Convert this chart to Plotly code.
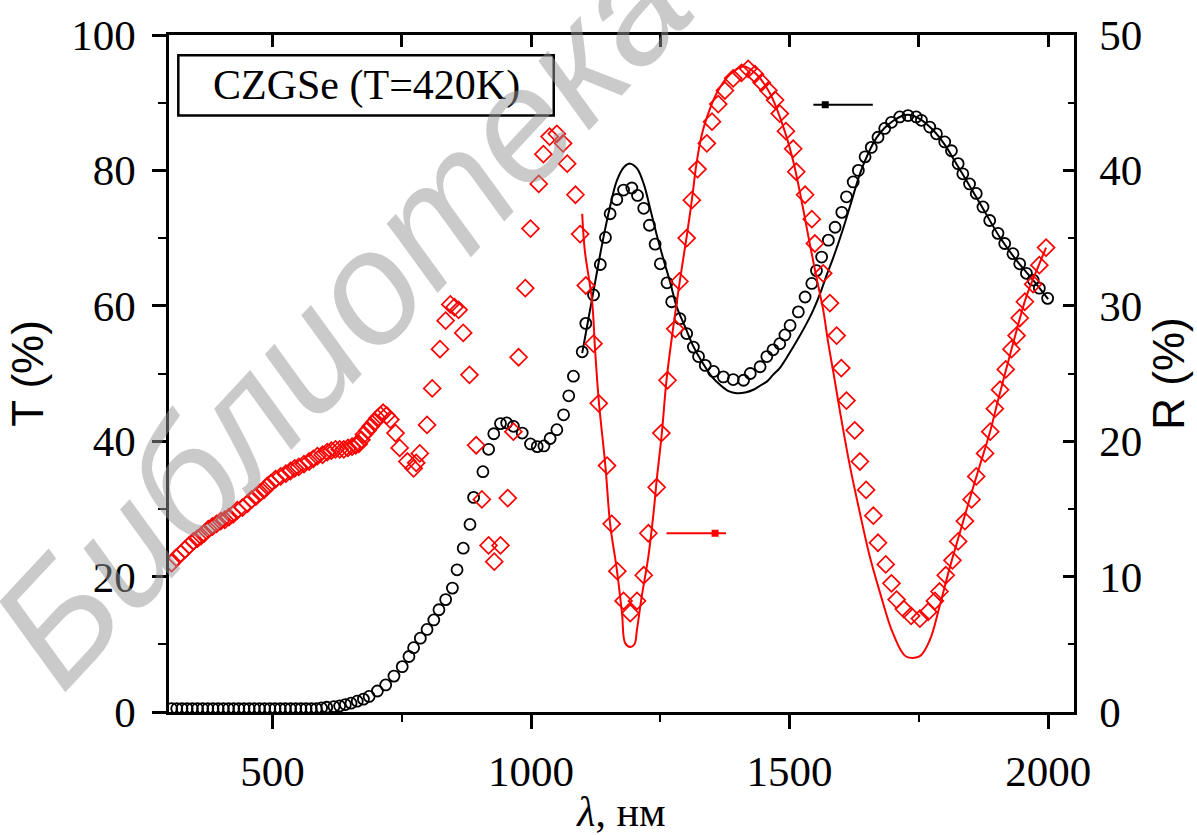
import plotly.graph_objects as go

# ---------------- data ----------------
# Transmission T (%) - measured (black open circles), left axis
T_x = [305, 315, 325, 335, 345, 355, 365, 375, 385, 395, 405, 415, 425, 435, 445,
       455, 465, 475, 485, 495, 505, 515, 525, 535, 545, 555, 565, 575, 585, 595, 605,
       619, 630, 641, 652, 664, 676, 687, 703, 719, 735, 751, 764, 773, 786, 799, 812,
       822, 835, 848, 857, 869, 882, 889, 907, 918, 928, 941, 953, 966, 983, 999, 1012,
       1025, 1037, 1050, 1063, 1073, 1082, 1099, 1106, 1121, 1134, 1144, 1153, 1166,
       1179, 1195, 1206, 1218, 1229, 1240, 1250, 1263, 1272, 1288, 1301, 1314, 1324,
       1337, 1353, 1372, 1391, 1411, 1424, 1443, 1456, 1468, 1481, 1491, 1501, 1517,
       1530, 1543, 1552, 1562, 1575, 1588, 1601, 1610, 1623, 1633, 1646, 1658, 1671,
       1684, 1697, 1713, 1729, 1745, 1755, 1771, 1784, 1800, 1813, 1826, 1835, 1848,
       1861, 1874, 1887, 1903, 1916, 1932, 1945, 1958, 1971, 1983, 1999]
T_y = [0.5, 0.5, 0.5, 0.5, 0.5, 0.5, 0.5, 0.5, 0.5, 0.5, 0.5, 0.5, 0.5, 0.5, 0.5,
       0.5, 0.5, 0.5, 0.5, 0.5, 0.5, 0.5, 0.5, 0.5, 0.5, 0.5, 0.5, 0.5, 0.5, 0.6, 0.7,
       0.8, 0.9, 1.1, 1.3, 1.6, 1.9, 2.3, 3.1, 4.0, 5.3, 6.7, 8.2, 9.5, 10.9, 12.2, 13.6,
       15.1, 16.6, 18.3, 21.0, 24.2, 27.7, 31.7, 35.5, 38.8, 41.1, 42.6, 42.7, 42.2, 41.2,
       39.6, 39.2, 39.3, 40.4, 41.7, 43.9, 46.7, 49.6, 53.2, 57.4, 61.6, 66.1, 70.1, 73.6,
       75.7, 77.1, 77.4, 76.3, 74.4, 71.9, 69.1, 66.2, 63.4, 60.6, 58.1, 55.9, 53.9, 52.5,
       51.2, 50.3, 49.5, 49.1, 49.0, 50.0, 51.0, 52.5, 53.5, 54.4, 55.7, 57.1, 59.1,
       61.3, 63.3, 65.2, 67.2, 69.7, 71.6, 73.8, 76.1, 78.3, 80.0, 82.0, 83.4, 84.9,
       86.2, 87.1, 87.9, 88.1, 87.9, 87.4, 86.4, 85.4, 84.2, 82.9, 81.0, 79.5, 78.0,
       76.6, 74.6, 72.6, 70.7, 69.2, 67.7, 66.2, 64.8, 63.8, 62.6, 61.1]

# Transmission T (%) - calculated (black line)
Tfit_x = [1099, 1112, 1125, 1138, 1153, 1166, 1180, 1192, 1205, 1218, 1230, 1243, 1256,
          1269, 1282, 1298, 1314, 1330, 1350, 1366, 1382, 1398, 1414, 1430, 1445, 1456,
          1468, 1481, 1494, 1507, 1520, 1533, 1546, 1559, 1572, 1584, 1604, 1620, 1636,
          1652, 1668, 1684, 1700, 1716, 1732, 1750, 1777, 1800, 1820, 1842, 1870, 1906,
          1940, 1971, 2000]
Tfit_y = [53.0, 58.5, 63.9, 69.3, 74.7, 78.5, 80.5, 81.0, 80.3, 78.0, 74.5, 70.5, 66.9,
          63.5, 59.8, 56.9, 54.0, 51.8, 49.5, 48.3, 47.4, 47.1, 47.2, 47.6, 48.3, 48.8,
          49.8, 50.8, 52.3, 53.9, 55.6, 57.4, 59.4, 61.8, 64.6, 67.0, 71.5, 75.5, 79.5,
          82.5, 84.8, 86.3, 87.3, 88.0, 88.2, 87.7, 86.0, 83.8, 81.3, 78.5, 74.9, 70.2,
          66.6, 63.8, 61.0]

# Reflection R (%) - measured (red open diamonds), right axis
R_x = [305, 314, 323, 331, 339, 347, 355, 362, 368, 376, 384, 392, 400, 408, 416, 424,
       432, 442, 452, 460, 468, 476, 484, 490, 497, 506, 516, 526, 535, 543, 551, 561,
       571, 579, 587, 597, 606, 614, 622, 630, 638, 646, 654, 661, 667, 672, 677, 684,
       690, 697, 703, 709, 714, 721, 728, 738, 746, 761, 773, 778, 785, 799, 809, 824,
       835, 844, 852, 860, 869, 881, 894, 905, 918, 929, 941, 955, 966, 976, 989, 999,
       1015, 1024, 1036, 1050, 1062, 1070, 1086, 1095, 1106, 1121, 1131, 1147, 1156,
       1167, 1179, 1192, 1205, 1218, 1227, 1243, 1252, 1264, 1279, 1287, 1301, 1311,
       1322, 1340, 1350, 1362, 1375, 1391, 1407, 1420, 1433, 1446, 1459, 1472, 1481,
       1493, 1507, 1513, 1530, 1543, 1549, 1565, 1578, 1591, 1600, 1610, 1626, 1636,
       1648, 1662, 1671, 1686, 1697, 1707, 1721, 1735, 1752, 1768, 1781, 1790, 1802,
       1815, 1826, 1839, 1852, 1861, 1878, 1888, 1897, 1907, 1918, 1929, 1939, 1945,
       1955, 1971, 1983, 1996]
R_y = [11.0, 11.4, 11.7, 12.0, 12.3, 12.6, 12.8, 13.0, 13.2, 13.5, 13.7, 13.9, 14.1,
       14.2, 14.4, 14.6, 14.9, 15.1, 15.4, 15.7, 15.9, 16.2, 16.4, 16.7, 16.9, 17.2,
       17.4, 17.6, 17.8, 18.0, 18.1, 18.3, 18.5, 18.7, 18.9, 19.0, 19.2, 19.3, 19.4,
       19.4, 19.4, 19.5, 19.6, 19.7, 19.8, 20.1, 20.5, 20.8, 21.1, 21.4, 21.7, 21.9,
       22.1, 21.9, 21.6, 20.6, 19.5, 18.5, 18.0, 18.4, 19.1, 21.2, 23.9, 26.8, 28.9,
       30.1, 29.9, 29.7, 28.0, 24.9, 19.7, 15.7, 12.3, 11.1, 12.3, 15.8, 20.7, 26.2,
       31.3, 35.7, 39.0, 41.2, 42.5, 42.7, 42.0, 40.5, 38.2, 35.3, 31.5, 27.2, 22.8,
       18.2, 13.9, 10.4, 8.2, 7.3, 8.2, 10.1, 13.2, 16.6, 20.6, 24.5, 28.3, 31.8, 35.0,
       37.8, 40.1, 42.0, 43.6, 44.9, 45.9, 46.8, 47.2, 47.5, 47.1, 46.5, 45.9, 45.2,
       44.2, 42.9, 41.6, 39.9, 38.2, 36.4, 34.6, 32.4, 30.2, 27.8, 25.4, 23.0, 20.8,
       18.5, 16.4, 14.5, 12.5, 10.9, 9.5, 8.3, 7.6, 7.1, 6.9, 7.4, 8.2, 8.9, 10.1,
       11.2, 12.6, 14.1, 15.7, 17.4, 19.1, 20.7, 22.4, 23.8, 25.3, 26.8, 27.8, 29.1,
       30.3, 31.6, 33.0, 34.3]

# Reflection R (%) - calculated (red line)
Rfit_x = [1099, 1104, 1118, 1124, 1131, 1144, 1153, 1166, 1176, 1182, 1192, 1200, 1205,
          1214, 1227, 1237, 1243, 1253, 1262, 1275, 1288, 1301, 1311, 1320, 1330, 1340,
          1359, 1385, 1411, 1436, 1462, 1488, 1507, 1523, 1539, 1552, 1565, 1575, 1586,
          1597, 1617, 1636, 1655, 1675, 1700, 1725, 1751, 1771, 1790, 1810, 1829, 1848,
          1867, 1887, 1903, 1932, 1958, 1983, 1996]
Rfit_y = [36.8, 34.1, 30.4, 26.7, 23.0, 18.1, 13.9, 10.5, 7.3, 5.1, 4.8, 5.0, 6.1,
          8.5, 11.5, 14.7, 17.1, 20.6, 24.5, 28.4, 31.9, 35.1, 37.8, 40.5, 42.6, 43.9,
          45.7, 47.1, 47.7, 47.1, 45.7, 43.2, 40.7, 37.8, 34.6, 32.1, 29.7, 27.2, 24.8,
          22.3, 18.1, 14.7, 11.5, 8.8, 5.8, 4.1, 4.1, 5.3, 7.8, 10.7, 13.2, 15.7,
          18.1, 20.6, 23.0, 27.2, 30.7, 33.1, 34.3]

# axis-pointer arrows (which curve belongs to which axis)
arrowT_x = [1546, 1661]
arrowT_y = [89.7, 89.7]
arrowT_sq_x = [1569]
arrowR_x = [1262, 1377]
arrowR_y = [13.2, 13.2]
arrowR_sq_x = [1356]

x_ticks = [500, 1000, 1500, 2000]
x_minor = [750, 1250, 1750]
top_ticks = [500, 750, 1000, 1250, 1500, 1750, 2000]

legend_text = "CZGSe (T=420K)"
watermark = "Библиотека"

SERIF = "Liberation Serif"
SANS = "Liberation Sans"

fig = go.Figure()

fig.add_trace(go.Scatter(x=T_x, y=T_y, mode="markers", xaxis="x", yaxis="y",
                         marker=dict(symbol="circle-open", size=11, color="black",
                                     line=dict(width=1.8, color="black"))))
fig.add_trace(go.Scatter(x=Tfit_x, y=Tfit_y, mode="lines", xaxis="x", yaxis="y",
                         line=dict(color="black", width=2, shape="spline")))
fig.add_trace(go.Scatter(x=R_x, y=R_y, mode="markers", xaxis="x", yaxis="y2",
                         marker=dict(symbol="diamond-open", size=13, color="#ff0000",
                                     line=dict(width=1.7, color="#ff0000"))))
fig.add_trace(go.Scatter(x=Rfit_x, y=Rfit_y, mode="lines", xaxis="x", yaxis="y2",
                         line=dict(color="#ff0000", width=2, shape="spline")))

# arrows
fig.add_trace(go.Scatter(x=arrowT_x, y=arrowT_y, mode="lines", xaxis="x", yaxis="y",
                         line=dict(color="black", width=2)))
fig.add_trace(go.Scatter(x=arrowT_sq_x, y=[arrowT_y[0]], mode="markers", xaxis="x", yaxis="y",
                         marker=dict(symbol="square", size=7, color="black")))
fig.add_trace(go.Scatter(x=arrowR_x, y=arrowR_y, mode="lines", xaxis="x", yaxis="y2",
                         line=dict(color="#ff0000", width=2)))
fig.add_trace(go.Scatter(x=arrowR_sq_x, y=[arrowR_y[0]], mode="markers", xaxis="x", yaxis="y2",
                         marker=dict(symbol="square", size=7, color="#ff0000")))

# dummy trace so the top axis is drawn
fig.add_trace(go.Scatter(x=[None], y=[None], xaxis="x2", yaxis="y", mode="markers",
                         hoverinfo="skip"))

# legend box
fig.add_shape(type="rect", xref="x", yref="y", x0=318, x1=1044, y0=88.1, y1=97.0,
              line=dict(color="black", width=2.5), fillcolor="white", layer="below")
fig.add_annotation(x=681, y=92.6, xref="x", yref="y", text=legend_text, showarrow=False,
                   font=dict(family=SERIF, size=42, color="black"))

# watermark
fig.add_annotation(x=0.19, y=0.585, xref="paper", yref="paper",
                   xanchor="center", yanchor="middle",
                   text="<i>" + watermark + "</i>", showarrow=False, textangle=-47,
                   font=dict(family=SANS, size=160, color="rgba(150,150,150,0.5)"))

axis_common = dict(showgrid=False, zeroline=False, showline=True, linecolor="black",
                   linewidth=2.5, automargin=False)

fig.update_layout(
    width=1197, height=835,
    margin=dict(l=169, r=123, t=35, b=123),
    paper_bgcolor="white", plot_bgcolor="white",
    showlegend=False,
    xaxis=dict(range=[300, 2050], tickvals=x_ticks, ticks="outside", ticklen=14,
               tickwidth=2.5, tickcolor="black",
               minor=dict(tickvals=x_minor, ticks="outside", ticklen=7, tickwidth=2,
                          tickcolor="black"),
               tickfont=dict(family=SERIF, size=43, color="black"),
               ticklabelstandoff=6,
               title=dict(text="<i>λ</i>, нм", font=dict(family=SERIF, size=42, color="black"),
                          standoff=20),
               **axis_common),
    xaxis2=dict(range=[300, 2050], overlaying="x", side="top", anchor="y",
                tickvals=top_ticks, ticks="inside", ticklen=12, tickwidth=2.5,
                tickcolor="black", showticklabels=False, **axis_common),
    yaxis=dict(range=[0, 100], tickvals=[0, 20, 40, 60, 80, 100], ticks="outside",
               ticklen=14, tickwidth=2.5, tickcolor="black",
               minor=dict(tickvals=[10, 30, 50, 70, 90], ticks="outside", ticklen=8,
                          tickwidth=2, tickcolor="black"),
               tickfont=dict(family=SERIF, size=43, color="black"),
               ticklabelstandoff=8,
               title=dict(text="T (%)", font=dict(family=SANS, size=44, color="black"),
                          standoff=14),
               **axis_common),
    yaxis2=dict(range=[0, 50], overlaying="y", side="right", anchor="x",
                tickvals=[0, 10, 20, 30, 40, 50], ticks="inside", ticklen=11,
                tickwidth=2.5, tickcolor="black",
                minor=dict(tickvals=[5, 15, 25, 35, 45], ticks="inside", ticklen=6,
                           tickwidth=2, tickcolor="black"),
                tickfont=dict(family=SERIF, size=43, color="black"),
                ticklabelstandoff=14,
                title=dict(text="R (%)", font=dict(family=SANS, size=44, color="black"),
                           standoff=12),
                **axis_common),
)

fig.write_html("out.html")
